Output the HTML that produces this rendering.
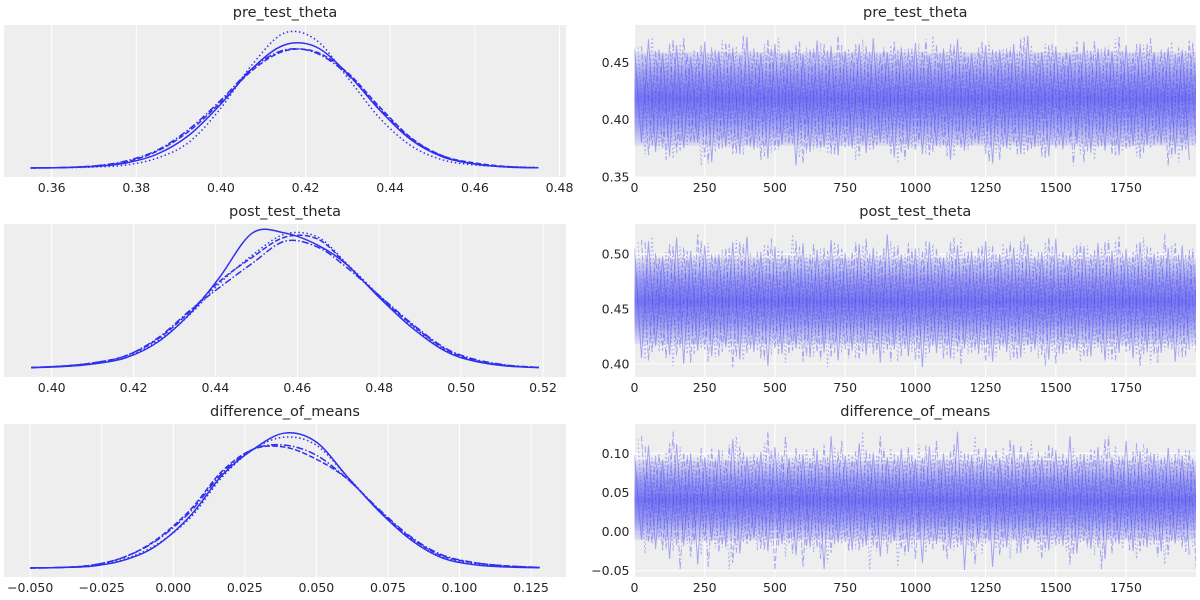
<!DOCTYPE html>
<html><head><meta charset="utf-8">
<style>
html,body{margin:0;padding:0;background:#fff;}
svg{display:block;font-family:"DejaVu Sans","Liberation Sans",sans-serif;}
.tick{font-size:12.5px;fill:#262626;}
.title{font-size:14.5px;fill:#262626;}
</style></head>
<body>
<svg id="chart" width="1200" height="600" viewBox="0 0 1200 600"></svg>
<script>
const NS = "http://www.w3.org/2000/svg";
const svg = document.getElementById('chart');

// ---- Data ----
const paramNames = ["pre_test_theta", "post_test_theta", "difference_of_means"];

const preGrid = [0.355,0.3625,0.37,0.3775,0.385,0.3925,0.40,0.4075,0.415,0.4225,0.43,0.4375,0.445,0.4525,0.46,0.4675,0.475];
const preChain1 = [0,0.4,1.5,5,14,33,64,100,123,121,94,58,28,11,4,1,0.2];
const preChain2 = [0,0.3,1,3,10,26,60,104,135,128,90,50,22,8,3,1.5,0.3];
const preChain3 = [0,0.5,2,6,17,37,66,98,117,116,95,61,30,12,5,1.5,0.3];
const preChain4 = [0,0.5,2,7,18,39,68,100,118,115,93,59,29,12,4,1.2,0.2];

const postGrid = [0.395,0.403,0.41,0.418,0.426,0.434,0.441,0.449,0.457,0.465,0.472,0.48,0.488,0.496,0.503,0.511,0.519];
const postChain1 = [0.3,1.5,4,10,26,55,90,134,134,122,103,70,40,17,7,2,0.4];
const postChain2 = [0.5,2,5,11,27,54,84,112,133,130,104,72,42,18,8,2.5,0.5];
const postChain3 = [0.5,2,5,12,29,57,86,110,130,128,103,71,43,19,8,2.5,0.6];
const postChain4 = [0.4,2,5,12,30,58,80,104,126,120,100,72,44,20,9,3,0.6];

const diffGrid = [-0.05,-0.039,-0.028,-0.017,-0.006,0.006,0.017,0.028,0.039,0.05,0.061,0.072,0.083,0.094,0.106,0.117,0.128];
const diffChain1 = [0,0.5,2,8,22,52,92,118,134,125,90,56,28,10,3,1,0.2];
const diffChain2 = [0,0.5,2,9,23,50,90,118,130,122,90,57,29,11,4,1.5,0.5];
const diffChain3 = [0,0.6,3,11,28,58,96,118,120,108,88,57,30,12,5,2,0.5];
const diffChain4 = [0,0.6,3,11,27,56,94,118,122,112,88,58,31,13,5,2,0.6];

const kdeTicksPre = [0.36,0.38,0.40,0.42,0.44,0.46,0.48];
const kdeTicksPost = [0.40,0.42,0.44,0.46,0.48,0.50,0.52];
const kdeTicksDiff = [-0.050,-0.025,0.000,0.025,0.050,0.075,0.100,0.125];

const drawTicks = [0,250,500,750,1000,1250,1500,1750];
const traceTicksPre = [0.35,0.40,0.45];
const traceTicksPost = [0.40,0.45,0.50];
const traceTicksDiff = [-0.05,0.00,0.05,0.10];

const preHi = [0.462,0.470,0.458,0.465,0.455,0.468,0.460,0.463,0.472,0.458,0.466,0.461,0.457,0.469,0.464,0.460,0.466,0.471,0.459,0.463,0.467,0.456,0.462,0.470,0.458,0.465,0.461,0.466,0.473,0.459,0.464,0.457,0.468,0.462,0.460,0.465,0.466,0.459,0.463,0.461];
const preLo = [0.378,0.370,0.365,0.380,0.372,0.368,0.375,0.380,0.363,0.376,0.370,0.374,0.366,0.378,0.360,0.372,0.376,0.369,0.375,0.371,0.380,0.367,0.374,0.370,0.377,0.365,0.373,0.379,0.362,0.375,0.370,0.376,0.368,0.374,0.379,0.371,0.373,0.369,0.377,0.378];
const postHi = [0.505,0.512,0.498,0.515,0.503,0.508,0.500,0.511,0.516,0.502,0.507,0.499,0.510,0.504,0.513,0.501,0.509,0.506,0.518,0.500,0.505,0.511,0.497,0.508,0.503,0.512,0.500,0.506,0.509,0.502,0.514,0.499,0.507,0.510,0.503,0.505,0.511,0.501,0.506,0.508];
const postLo = [0.410,0.402,0.413,0.405,0.416,0.408,0.400,0.412,0.407,0.415,0.404,0.411,0.398,0.409,0.414,0.406,0.410,0.403,0.412,0.408,0.401,0.413,0.407,0.397,0.410,0.405,0.414,0.409,0.402,0.411,0.406,0.413,0.404,0.409,0.412,0.407,0.403,0.410,0.405,0.411];
const diffHi = [0.098,0.110,0.092,0.112,0.100,0.095,0.105,0.118,0.096,0.102,0.108,0.094,0.099,0.104,0.122,0.097,0.113,0.101,0.095,0.106,0.093,0.109,0.100,0.128,0.098,0.107,0.094,0.111,0.102,0.096,0.104,0.122,0.099,0.108,0.095,0.116,0.103,0.100,0.107,0.097];
const diffLo = [-0.025,-0.015,-0.030,-0.010,-0.022,-0.035,-0.018,-0.042,-0.012,-0.020,-0.028,-0.008,-0.025,-0.016,-0.030,-0.020,-0.048,-0.014,-0.024,-0.018,-0.032,-0.012,-0.026,-0.040,-0.016,-0.022,-0.049,-0.015,-0.045,-0.020,-0.027,-0.013,-0.024,-0.018,-0.028,-0.022,-0.035,-0.016,-0.025,-0.020];
const traceCenter = [0.418, 0.457, 0.040];
const traceCore = [0.024, 0.023, 0.030];

// ---- Layout ----
const rowsY = [[25,177],[224,377],[424,577]];
const leftX = [4,566], rightX = [634.5,1196];
const kdeBase = [168,368,568];

function el(tag, attrs, parent){
  const e = document.createElementNS(NS, tag);
  for (const k in attrs) e.setAttribute(k, attrs[k]);
  (parent||svg).appendChild(e);
  return e;
}
function linScale(d0,d1,r0,r1){ return v => r0 + (v-d0)/(d1-d0)*(r1-r0); }
function smoothPath(pts){
  let d = "M"+pts[0][0].toFixed(2)+","+pts[0][1].toFixed(2);
  for (let i=0;i<pts.length-1;i++){
    const p0=pts[Math.max(0,i-1)], p1=pts[i], p2=pts[i+1], p3=pts[Math.min(pts.length-1,i+2)];
    const c1=[p1[0]+(p2[0]-p0[0])/6, p1[1]+(p2[1]-p0[1])/6];
    const c2=[p2[0]-(p3[0]-p1[0])/6, p2[1]-(p3[1]-p1[1])/6];
    d += " C"+c1[0].toFixed(2)+","+c1[1].toFixed(2)+" "+c2[0].toFixed(2)+","+c2[1].toFixed(2)+" "+p2[0].toFixed(2)+","+p2[1].toFixed(2);
  }
  return d;
}

const kdeSpecs = [
  {grid:preGrid, chains:[preChain1,preChain2,preChain3,preChain4], ticks:kdeTicksPre, dom:[0.36,0.48], rng:[51.7,559.5], fmt:2},
  {grid:postGrid, chains:[postChain1,postChain2,postChain3,postChain4], ticks:kdeTicksPost, dom:[0.40,0.52], rng:[51.7,543], fmt:2},
  {grid:diffGrid, chains:[diffChain1,diffChain2,diffChain3,diffChain4], ticks:kdeTicksDiff, dom:[-0.05,0.125], rng:[30.2,531], fmt:3},
];
const traceSpecs = [
  {hi:preHi, lo:preLo, ticks:traceTicksPre, dom:[0.35,0.4825], fmt:2},
  {hi:postHi, lo:postLo, ticks:traceTicksPost, dom:[0.388,0.5275], fmt:2},
  {hi:diffHi, lo:diffLo, ticks:traceTicksDiff, dom:[-0.058,0.1376], fmt:2},
];
const dashes = ["", "1.5,2.6", "5.5,2.2", "7,2.2,1.5,2.2"];
const blue = "#2f2ff0";

for (let r=0;r<3;r++){
  const [yt,yb] = rowsY[r];
  const ks = kdeSpecs[r];
  const gK = el('g',{});
  
  
  const bgK = el('rect',{x:leftX[0],y:yt,width:leftX[1]-leftX[0],height:yb-yt,fill:'#eeeeee'},gK);
  
  
  const xk = linScale(ks.dom[0],ks.dom[1],ks.rng[0],ks.rng[1]);
  const yk = linScale(0,143,kdeBase[r],yt);
  ks.ticks.forEach(t=>{
    const gl = el('line',{x1:xk(t),x2:xk(t),y1:yt,y2:yb,stroke:'#ffffff','stroke-width':1},gK);
    
    
    const tl = el('text',{x:xk(t),y:yb+15,'text-anchor':'middle',class:'tick'},gK);
    tl.textContent = t.toFixed(ks.fmt).replace('-','\u2212');
    
    
  });
  ks.chains.forEach((c,ci)=>{
    const pts = ks.grid.map((g,i)=>[xk(g), yk(c[i])]);
    const p = el('path',{d:smoothPath(pts),fill:'none',stroke:blue,'stroke-width':1.5,'stroke-dasharray':dashes[ci]},gK);
    
    
  });
  const tk = el('text',{x:(leftX[0]+leftX[1])/2,y:yt-8,'text-anchor':'middle',class:'title'},gK);
  tk.textContent = paramNames[r];
  
  

  const ts = traceSpecs[r];
  const gT = el('g',{});
  
  
  const bgT = el('rect',{x:rightX[0],y:yt,width:rightX[1]-rightX[0],height:yb-yt,fill:'#eeeeee'},gT);
  
  
  const xt = linScale(0,1999,rightX[0],rightX[1]);
  const yt2 = linScale(ts.dom[0],ts.dom[1],yb,yt);
  drawTicks.forEach(t=>{
    const gl = el('line',{x1:xt(t),x2:xt(t),y1:yt,y2:yb,stroke:'#ffffff','stroke-width':1},gT);
    
    
    const tl = el('text',{x:xt(t),y:yb+15,'text-anchor':'middle',class:'tick'},gT);
    tl.textContent = String(t);
    
    
  });
  ts.ticks.forEach(t=>{
    const gl = el('line',{x1:rightX[0],x2:rightX[1],y1:yt2(t),y2:yt2(t),stroke:'#ffffff','stroke-width':1},gT);
    
    
    const tl = el('text',{x:rightX[0]-5,y:yt2(t)+4.5,'text-anchor':'end',class:'tick'},gT);
    tl.textContent = t.toFixed(ts.fmt).replace('-','\u2212');
    
    
  });
  const clipId = 'clip'+r;
  const cp = el('clipPath',{id:clipId},gT);
  el('rect',{x:rightX[0],y:yt,width:rightX[1]-rightX[0],height:yb-yt},cp);
  const gData = el('g',{'clip-path':'url(#'+clipId+')'},gT);
  
  
  const c = traceCenter[r], s = traceCore[r];
  const gradId = 'grad'+r;
  const lg = el('linearGradient',{id:gradId,x1:0,y1:0,x2:0,y2:1},gT);
  el('stop',{offset:'0','stop-color':'#4848f0','stop-opacity':0.1},lg);
  el('stop',{offset:'0.25','stop-color':'#4848f0','stop-opacity':0.5},lg);
  el('stop',{offset:'0.5','stop-color':'#4646f0','stop-opacity':0.72},lg);
  el('stop',{offset:'0.75','stop-color':'#4848f0','stop-opacity':0.5},lg);
  el('stop',{offset:'1','stop-color':'#4848f0','stop-opacity':0.1},lg);
  const band = el('rect',{x:rightX[0],y:yt2(c+s*1.7),width:rightX[1]-rightX[0],height:yt2(c-s*1.7)-yt2(c+s*1.7),fill:'url(#'+gradId+')'},gData);
  
  
  const n = ts.hi.length;
  const binW = 2000/n;
  for (let pass=0; pass<4; pass++){
    let d = "";
    for (let i=0;i<n;i++){
      const j = (i+pass*7)%n;
      const xa = xt(i*binW + pass*binW/4);
      const xb = xt(i*binW + pass*binW/4 + binW/2);
      d += (i===0?"M":"L")+xa.toFixed(1)+","+yt2(ts.hi[j]).toFixed(1)+" L"+xb.toFixed(1)+","+yt2(ts.lo[(j+3)%n]).toFixed(1)+" ";
    }
    const p = el('path',{d:d,fill:'none',stroke:'#4a4af0','stroke-opacity':0.45,'stroke-width':1,'stroke-dasharray':dashes[pass]},gData);
    
    
  }
  const tt = el('text',{x:(rightX[0]+rightX[1])/2,y:yt-8,'text-anchor':'middle',class:'title'},gT);
  tt.textContent = paramNames[r];
  
  
}
</script>
</body></html>
